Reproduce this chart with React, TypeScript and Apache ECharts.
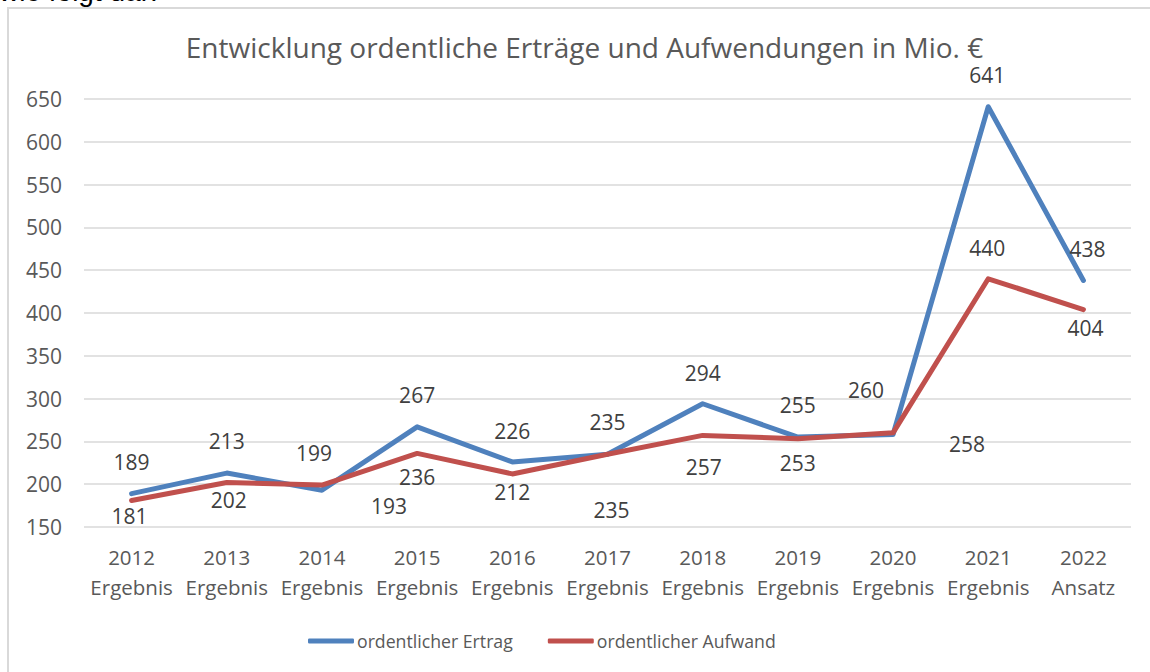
import React, { useEffect, useRef } from "react";
import * as echarts from "echarts";

const YEARS = ["2012", "2013", "2014", "2015", "2016", "2017", "2018", "2019", "2020", "2021", "2022"];
const KINDS = ["Ergebnis", "Ergebnis", "Ergebnis", "Ergebnis", "Ergebnis", "Ergebnis", "Ergebnis", "Ergebnis", "Ergebnis", "Ergebnis", "Ansatz"];
const ERTRAG = [189, 213, 193, 267, 226, 235, 294, 255, 258, 641, 438];
const AUFWAND = [181, 202, 199, 236, 212, 235, 257, 253, 260, 440, 404];
const Y_MIN = 150;
const Y_MAX = 650;
const Y_STEP = 50;

// label offsets (dx, dy) from each point, as placed in the original
const ERTRAG_LABEL_OFFSETS = [
  [0, -32], [0, -32], [67, 16], [0, -32], [0, -31], [0, -32],
  [0, -31], [0, -32], [74, 9], [-1, -32], [4, -31],
];
const AUFWAND_LABEL_OFFSETS = [
  [-2, 16], [2, 18], [-8, -32], [0, 24], [0, 18], [4, 56],
  [1, 32], [0, 24], [-27, -43], [-1, -31], [2, 18],
];

const BLUE = "#4f81bd";
const RED = "#c0504d";
const FONT = "'Open Sans', 'Noto Sans', sans-serif";

function buildData(values: number[], offsets: number[][]) {
  return values.map((v, i) => ({
    value: v,
    label: { offset: offsets[i] },
  }));
}

export default function App() {
  const ref = useRef<HTMLDivElement>(null);

  useEffect(() => {
    if (!ref.current) return;
    const chart = echarts.init(ref.current, undefined, { renderer: "svg" });
    const labelStyle = {
      show: true,
      position: "inside",
      align: "center",
      verticalAlign: "middle",
      color: "#404040",
      fontSize: 21,
      fontFamily: FONT,
    };
    chart.setOption({
      animation: false,
      backgroundColor: "#ffffff",
      graphic: [
        {
          type: "rect",
          shape: { x: 8, y: 8, width: 1200, height: 720 },
          style: { fill: "none", stroke: "#d9d9d9", lineWidth: 2 },
          silent: true,
          z: 0,
        },
        {
          type: "text",
          x: -1,
          y: 5,
          style: {
            text: "wie folgt dar:",
            fontSize: 28,
            fontFamily: "'Liberation Sans', Arial, sans-serif",
            fill: "#000000",
            verticalAlign: "bottom",
            align: "left",
          },
        },
        {
          type: "text",
          x: 584.5,
          y: 47,
          style: {
            text: "Entwicklung ordentliche Erträge und Aufwendungen in Mio. €",
            fontSize: 28,
            fontFamily: FONT,
            fill: "#595959",
            align: "center",
            verticalAlign: "middle",
          },
        },
      ],
      grid: { left: 84, right: 19, top: 99, bottom: 145 },
      legend: {
        left: 303,
        top: 627,
        itemWidth: 46,
        itemHeight: 5,
        itemGap: 35,
        icon: "roundRect",
        textStyle: { color: "#595959", fontSize: 17.7, fontFamily: FONT, padding: [0, 0, 0, -2] },
        data: ["ordentlicher Ertrag", "ordentlicher Aufwand"],
      },
      xAxis: {
        type: "category",
        data: YEARS.map((y, i) => y + "\n" + KINDS[i]),
        boundaryGap: true,
        axisLine: { show: false },
        axisTick: { show: false },
        axisLabel: {
          color: "#595959",
          fontSize: 20.5,
          fontFamily: FONT,
          lineHeight: 30,
          margin: 15,
          interval: 0,
        },
      },
      yAxis: {
        type: "value",
        min: Y_MIN,
        max: Y_MAX,
        interval: Y_STEP,
        axisLine: { show: false },
        axisTick: { show: false },
        axisLabel: {
          color: "#595959",
          fontSize: 21,
          fontFamily: FONT,
          margin: 22,
        },
        splitLine: { lineStyle: { color: "#d9d9d9", width: 1.5 } },
      },
      series: [
        {
          name: "ordentlicher Ertrag",
          type: "line",
          data: buildData(ERTRAG, ERTRAG_LABEL_OFFSETS),
          symbol: "circle",
          symbolSize: 1,
          itemStyle: { color: BLUE },
          lineStyle: { color: BLUE, width: 5, cap: "round", join: "round" },
          label: labelStyle,
          z: 3,
        },
        {
          name: "ordentlicher Aufwand",
          type: "line",
          data: buildData(AUFWAND, AUFWAND_LABEL_OFFSETS),
          symbol: "circle",
          symbolSize: 1,
          itemStyle: { color: RED },
          lineStyle: { color: RED, width: 5, cap: "round", join: "round" },
          label: labelStyle,
          z: 4,
        },
      ],
    });
    return () => chart.dispose();
  }, []);

  return (
    <div
      ref={ref}
      style={{ position: "absolute", left: 0, top: 0, width: 1150, height: 672, background: "#fff" }}
    />
  );
}
